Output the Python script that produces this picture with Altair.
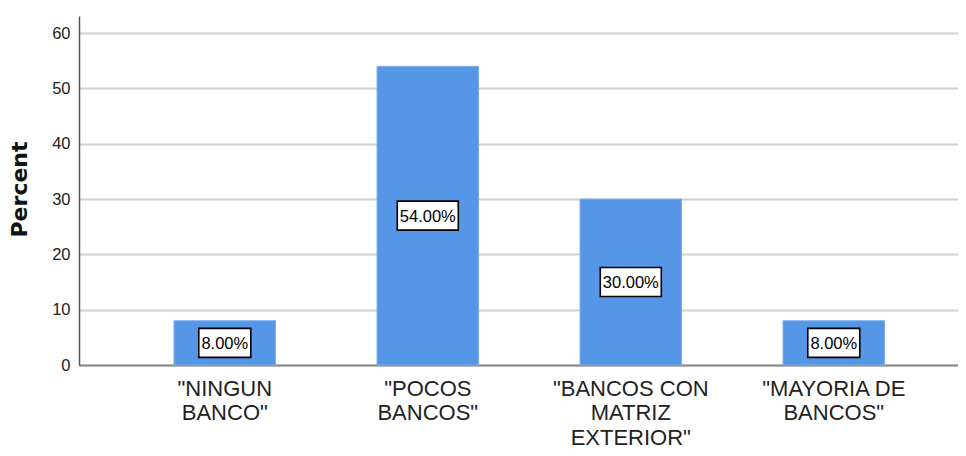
import altair as alt
import pandas as pd

categories = ['"NINGUN\nBANCO"', '"POCOS\nBANCOS"', '"BANCOS CON\nMATRIZ\nEXTERIOR"', '"MAYORIA DE\nBANCOS"']
percents = [8.0, 54.0, 30.0, 8.0]
labels = ["8.00%", "54.00%", "30.00%", "8.00%"]
y_ticks = [0, 10, 20, 30, 40, 50, 60]

df = pd.DataFrame({"cat": categories, "pct": percents, "label": labels})

xscale = alt.Scale(paddingInner=0.5, paddingOuter=0.415, align=0.564)
yscale = alt.Scale(domain=[0, 63.1], nice=False)

x_enc = alt.X(
    "cat:N", sort=None, scale=xscale,
    axis=alt.Axis(
        title=None, labelAngle=0, labelFont="Liberation Sans", labelFontSize=22,
        labelLineHeight=24.5, labelPadding=13, ticks=False, domainColor="#8a8a8a",
        domainWidth=2, labelColor="#222222", labelLimit=1000,
        labelExpr="split(datum.label, '\\n')", grid=False,
    ),
)

base = alt.Chart(df)

bars = base.mark_bar(color="#5596E6", stroke="#7aaef0", strokeWidth=1).encode(
    x=x_enc,
    y=alt.Y(
        "pct:Q", scale=yscale,
        axis=alt.Axis(
            values=y_ticks, title="Percent", titleFont="DejaVu Sans", titleFontSize=22,
            titleFontWeight="bold", titleColor="#111111", titleX=-53, titleY=173,
            titleAngle=-90, titleBaseline="alphabetic", titleAlign="center",
            labelFont="Liberation Sans", labelFontSize=16.5, labelColor="#222222",
            labelPadding=9, ticks=False, domainColor="#555555", domainWidth=1.5,
            gridColor="#cfcfcf", gridWidth=2,
        ),
    ),
)

boxes = base.transform_calculate(
    mid="datum.pct / 2",
    w="length(datum.label) * 9 + 7",
).transform_calculate(
    r="format(29 / datum.w, '.4f')",
    sz="datum.w * datum.w",
).transform_calculate(
    shp="'M-1,-' + datum.r + 'H1V' + datum.r + 'H-1Z'",
).mark_point(filled=True, fill="white", stroke="black", strokeWidth=1.6, opacity=1).encode(
    x=alt.X("cat:N", sort=None, scale=xscale),
    y=alt.Y("mid:Q", scale=yscale),
    shape=alt.Shape("shp:N", scale=None, legend=None),
    size=alt.Size("sz:Q", scale=None, legend=None),
)

texts = base.transform_calculate(mid="datum.pct / 2").mark_text(
    font="Liberation Sans", fontSize=16.5, color="black", baseline="middle", align="center", dy=1
).encode(
    x=alt.X("cat:N", sort=None, scale=xscale),
    y=alt.Y("mid:Q", scale=yscale),
    text="label:N",
)

chart = alt.layer(bars, boxes, texts).properties(
    width=879, height=349,
    autosize=alt.AutoSizeParams(type="none"),
    padding={"left": 71, "top": 8, "right": 0, "bottom": 83},
    background="white",
).configure_view(stroke=None)

chart.save("out.html", embed_options={"renderer": "svg", "actions": False})
